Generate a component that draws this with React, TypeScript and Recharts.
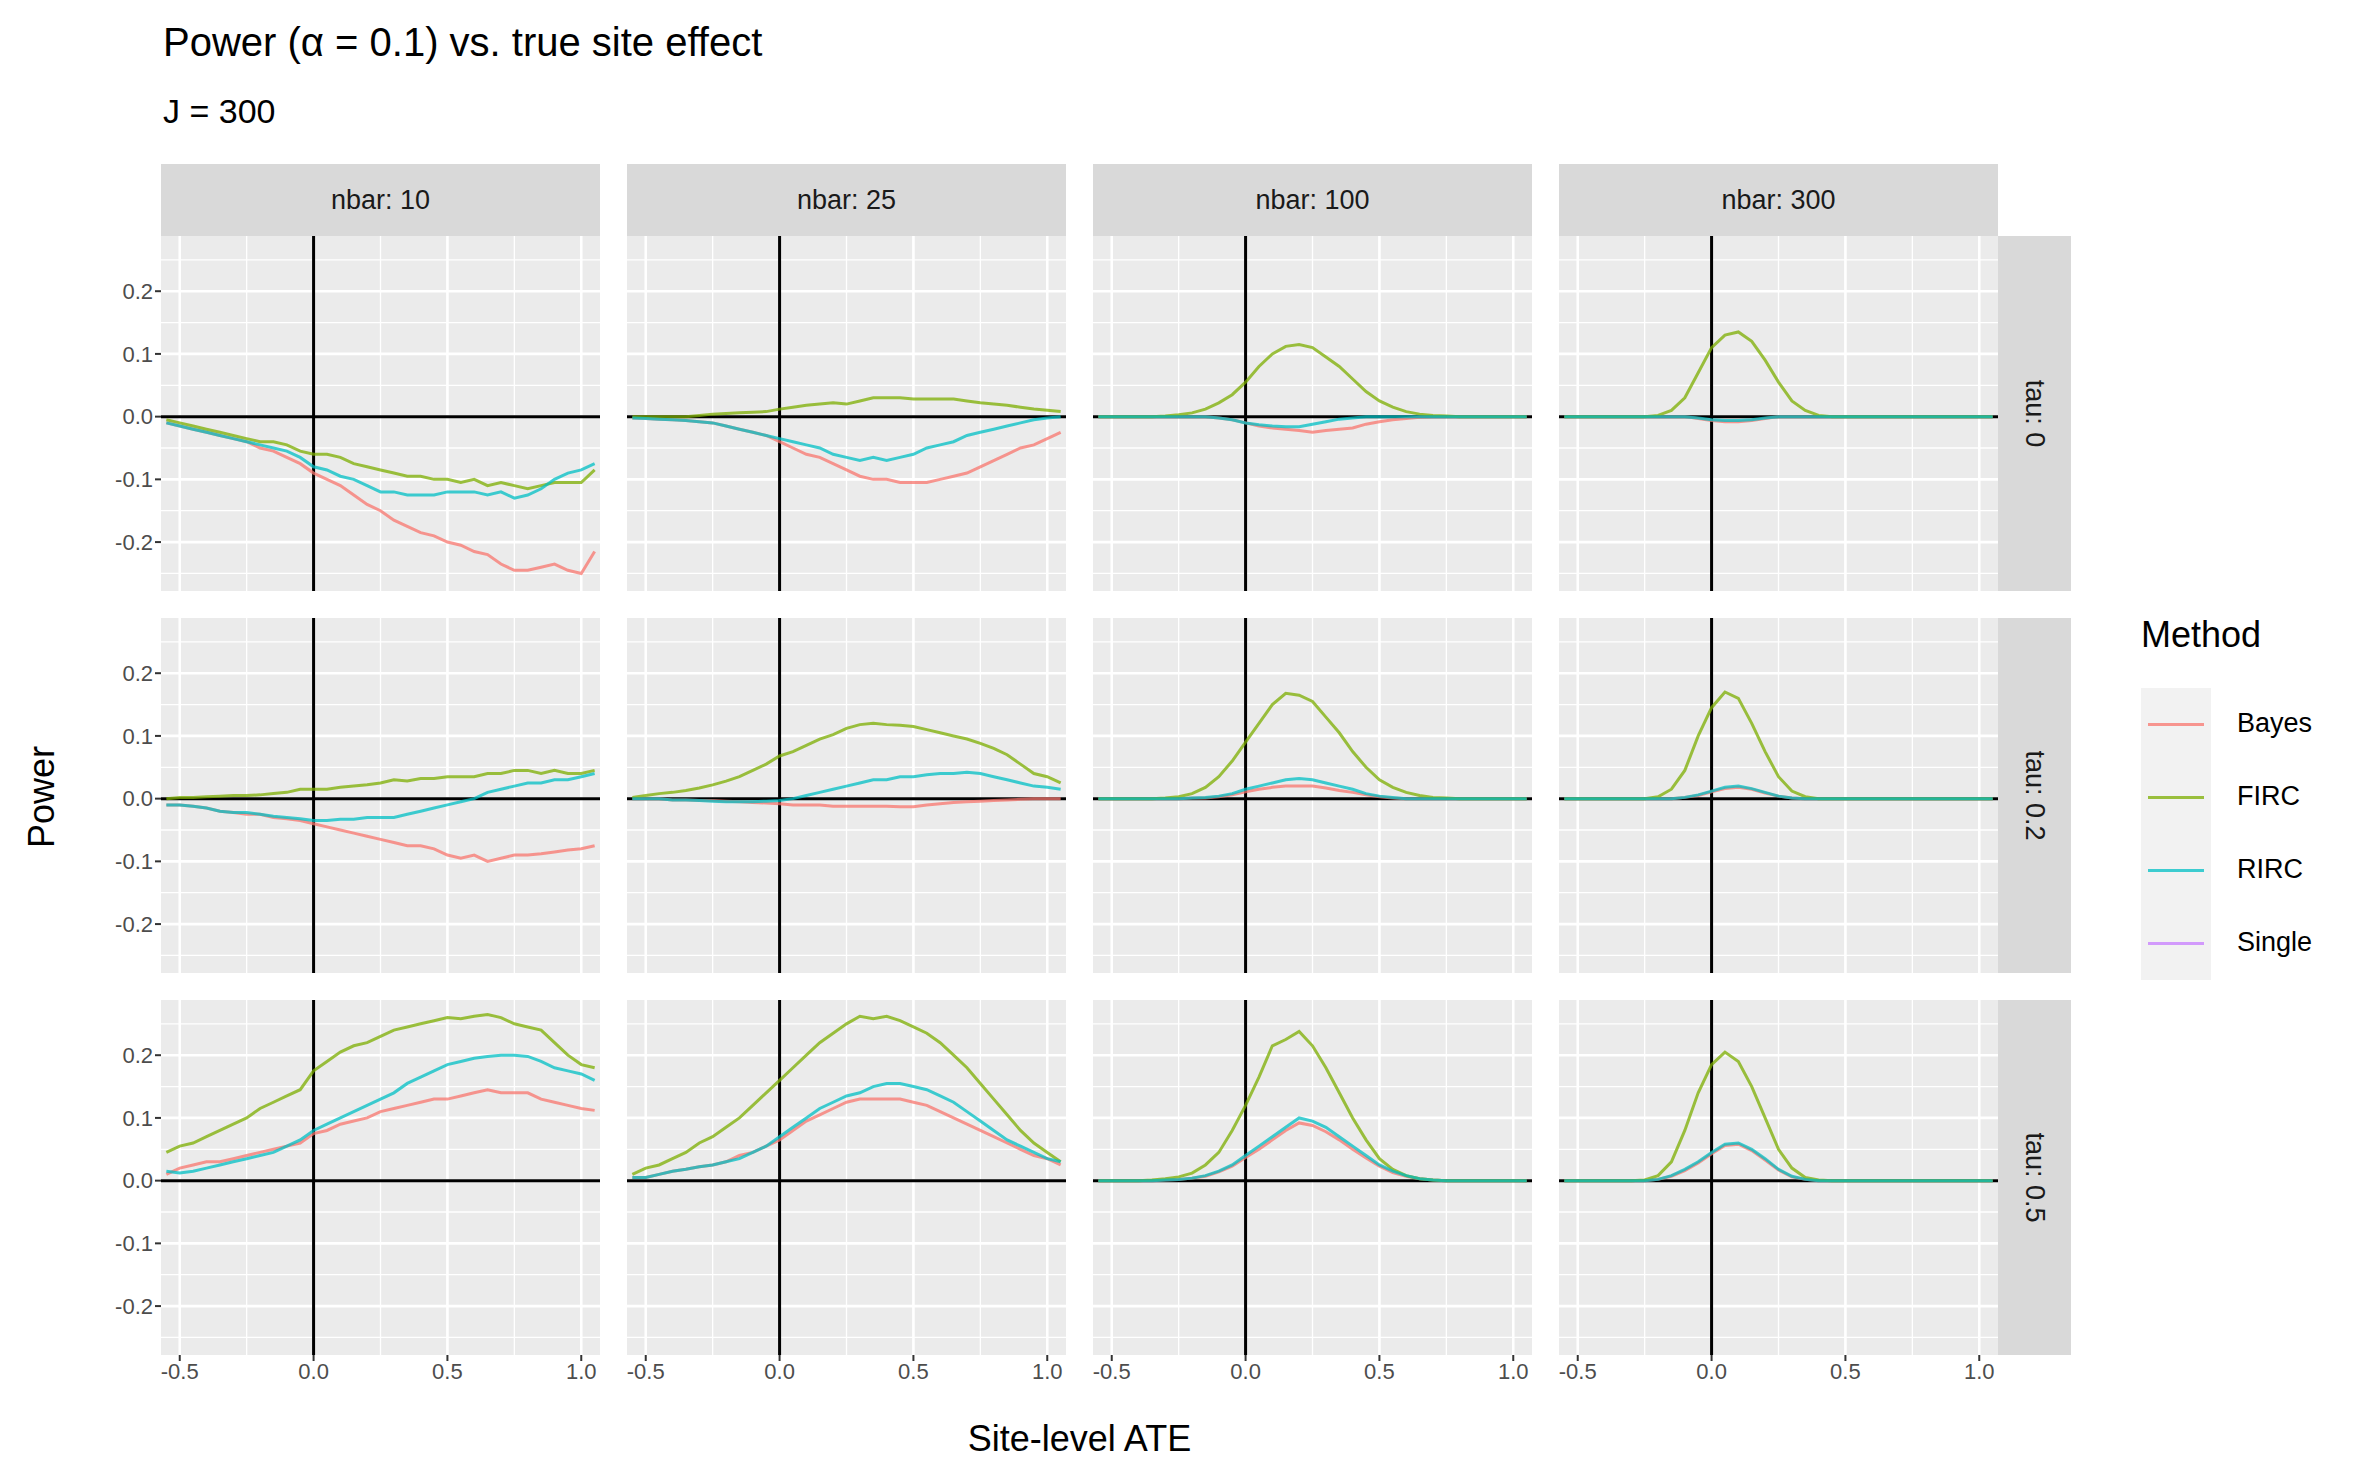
import React from 'react'
import { LineChart, Line, XAxis, YAxis, CartesianGrid, ReferenceLine } from 'recharts'

const xs = [-0.55, -0.5, -0.45, -0.4, -0.35, -0.3, -0.25, -0.2, -0.15, -0.1, -0.05, 0, 0.05, 0.1, 0.15, 0.2, 0.25, 0.3, 0.35, 0.4, 0.45, 0.5, 0.55, 0.6, 0.65, 0.7, 0.75, 0.8, 0.85, 0.9, 0.95, 1.0, 1.05]

const nbars = [10, 25, 100, 300]
const taus = ['0', '0.2', '0.5']
const methods = ['Bayes', 'FIRC', 'RIRC', 'Single']
const methodColors = ['#F8766D', '#7CAE00', '#00BFC4', '#C77CFF']

const xTicks = [-0.5, 0, 0.5, 1.0]
const xMinor = [-0.25, 0.25, 0.75]
const yTicks = [-0.2, -0.1, 0, 0.1, 0.2]
const yMinor = [-0.25, -0.15, -0.05, 0.05, 0.15, 0.25]

const z = (n: number) => new Array(n).fill(0)

// tau 0
const t0n10Bayes = [-0.01, -0.015, -0.02, -0.025, -0.03, -0.035, -0.04, -0.05, -0.055, -0.065, -0.075, -0.09, -0.1, -0.11, -0.125, -0.14, -0.15, -0.165, -0.175, -0.185, -0.19, -0.2, -0.205, -0.215, -0.22, -0.235, -0.245, -0.245, -0.24, -0.235, -0.245, -0.25, -0.215]
const t0n10Firc = [-0.005, -0.01, -0.015, -0.02, -0.025, -0.03, -0.035, -0.04, -0.04, -0.045, -0.055, -0.06, -0.06, -0.065, -0.075, -0.08, -0.085, -0.09, -0.095, -0.095, -0.1, -0.1, -0.105, -0.1, -0.11, -0.105, -0.11, -0.115, -0.11, -0.105, -0.105, -0.105, -0.085]
const t0n10Rirc = [-0.01, -0.015, -0.02, -0.025, -0.03, -0.035, -0.04, -0.045, -0.05, -0.055, -0.065, -0.08, -0.085, -0.095, -0.1, -0.11, -0.12, -0.12, -0.125, -0.125, -0.125, -0.12, -0.12, -0.12, -0.125, -0.12, -0.13, -0.125, -0.115, -0.1, -0.09, -0.085, -0.075]
const t0n25Bayes = [-0.002, -0.003, -0.004, -0.005, -0.006, -0.008, -0.01, -0.015, -0.02, -0.025, -0.03, -0.04, -0.05, -0.06, -0.065, -0.075, -0.085, -0.095, -0.1, -0.1, -0.105, -0.105, -0.105, -0.1, -0.095, -0.09, -0.08, -0.07, -0.06, -0.05, -0.045, -0.035, -0.025]
const t0n25Firc = [0, 0, 0, 0, 0, 0.002, 0.004, 0.005, 0.006, 0.007, 0.008, 0.012, 0.015, 0.018, 0.02, 0.022, 0.02, 0.025, 0.03, 0.03, 0.03, 0.028, 0.028, 0.028, 0.028, 0.025, 0.022, 0.02, 0.018, 0.015, 0.012, 0.01, 0.008]
const t0n25Rirc = [-0.002, -0.003, -0.004, -0.005, -0.006, -0.008, -0.01, -0.015, -0.02, -0.025, -0.03, -0.035, -0.04, -0.045, -0.05, -0.06, -0.065, -0.07, -0.065, -0.07, -0.065, -0.06, -0.05, -0.045, -0.04, -0.03, -0.025, -0.02, -0.015, -0.01, -0.005, -0.002, 0]
const t0n100Bayes = [...z(9), -0.002, -0.005, -0.01, -0.015, -0.018, -0.02, -0.022, -0.025, -0.022, -0.02, -0.018, -0.012, -0.008, -0.005, -0.003, -0.001, ...z(8)]
const t0n100Firc = [0, 0, 0, 0, 0, 0.001, 0.003, 0.006, 0.012, 0.022, 0.035, 0.055, 0.08, 0.1, 0.112, 0.115, 0.11, 0.095, 0.08, 0.06, 0.04, 0.025, 0.015, 0.008, 0.004, 0.002, 0.001, 0, 0, 0, 0, 0, 0]
const t0n100Rirc = [...z(9), -0.002, -0.005, -0.01, -0.013, -0.015, -0.016, -0.016, -0.012, -0.008, -0.004, -0.002, ...z(13)]
const t0n300Bayes = [...z(10), -0.003, -0.006, -0.008, -0.008, -0.006, -0.003, ...z(17)]
const t0n300Firc = [...z(7), 0.002, 0.01, 0.03, 0.07, 0.11, 0.13, 0.135, 0.12, 0.09, 0.055, 0.025, 0.01, 0.002, ...z(13)]
const t0n300Rirc = [...z(10), -0.002, -0.005, -0.006, -0.006, -0.005, -0.002, ...z(17)]

// tau 0.2
const t2n10Bayes = [-0.01, -0.01, -0.012, -0.015, -0.02, -0.022, -0.025, -0.025, -0.03, -0.032, -0.035, -0.04, -0.045, -0.05, -0.055, -0.06, -0.065, -0.07, -0.075, -0.075, -0.08, -0.09, -0.095, -0.09, -0.1, -0.095, -0.09, -0.09, -0.088, -0.085, -0.082, -0.08, -0.075]
const t2n10Firc = [0, 0.002, 0.002, 0.003, 0.004, 0.005, 0.005, 0.006, 0.008, 0.01, 0.015, 0.015, 0.015, 0.018, 0.02, 0.022, 0.025, 0.03, 0.028, 0.032, 0.032, 0.035, 0.035, 0.035, 0.04, 0.04, 0.045, 0.045, 0.04, 0.045, 0.04, 0.04, 0.045]
const t2n10Rirc = [-0.01, -0.01, -0.012, -0.015, -0.02, -0.022, -0.022, -0.025, -0.028, -0.03, -0.032, -0.035, -0.035, -0.033, -0.033, -0.03, -0.03, -0.03, -0.025, -0.02, -0.015, -0.01, -0.005, 0, 0.01, 0.015, 0.02, 0.025, 0.025, 0.03, 0.03, 0.035, 0.04]
const t2n25Bayes = [0, 0, 0, -0.002, -0.002, -0.003, -0.003, -0.004, -0.005, -0.006, -0.007, -0.008, -0.01, -0.01, -0.01, -0.012, -0.012, -0.012, -0.012, -0.012, -0.013, -0.013, -0.01, -0.008, -0.006, -0.005, -0.004, -0.003, -0.002, -0.001, 0, 0, 0]
const t2n25Firc = [0.002, 0.005, 0.008, 0.01, 0.013, 0.017, 0.022, 0.028, 0.035, 0.045, 0.055, 0.068, 0.075, 0.085, 0.095, 0.102, 0.112, 0.118, 0.12, 0.118, 0.117, 0.115, 0.11, 0.105, 0.1, 0.095, 0.088, 0.08, 0.07, 0.055, 0.04, 0.035, 0.025]
const t2n25Rirc = [0, 0, 0, -0.002, -0.002, -0.003, -0.004, -0.005, -0.005, -0.005, -0.004, -0.003, 0, 0.005, 0.01, 0.015, 0.02, 0.025, 0.03, 0.03, 0.035, 0.035, 0.038, 0.04, 0.04, 0.042, 0.04, 0.035, 0.03, 0.025, 0.02, 0.018, 0.015]
const t2n100Bayes = [...z(7), 0.001, 0.001, 0.003, 0.006, 0.011, 0.015, 0.018, 0.02, 0.02, 0.02, 0.017, 0.013, 0.01, 0.006, 0.003, 0.001, ...z(10)]
const t2n100Firc = [0, 0, 0, 0, 0, 0.001, 0.003, 0.008, 0.018, 0.035, 0.06, 0.09, 0.12, 0.15, 0.168, 0.165, 0.155, 0.13, 0.105, 0.075, 0.05, 0.03, 0.018, 0.01, 0.005, 0.002, 0.001, 0, 0, 0, 0, 0, 0]
const t2n100Rirc = [...z(7), 0.001, 0.002, 0.004, 0.008, 0.015, 0.02, 0.025, 0.03, 0.032, 0.03, 0.025, 0.02, 0.015, 0.008, 0.004, 0.002, ...z(10)]
const t2n300Bayes = [...z(9), 0.002, 0.005, 0.011, 0.016, 0.018, 0.015, 0.009, 0.004, 0.001, ...z(15)]
const t2n300Firc = [...z(7), 0.003, 0.015, 0.045, 0.1, 0.145, 0.17, 0.16, 0.12, 0.075, 0.035, 0.012, 0.003, ...z(14)]
const t2n300Rirc = [...z(9), 0.002, 0.006, 0.012, 0.018, 0.02, 0.016, 0.01, 0.004, 0.001, ...z(15)]

// tau 0.5
const t5n10Bayes = [0.01, 0.02, 0.025, 0.03, 0.03, 0.035, 0.04, 0.045, 0.05, 0.055, 0.06, 0.075, 0.08, 0.09, 0.095, 0.1, 0.11, 0.115, 0.12, 0.125, 0.13, 0.13, 0.135, 0.14, 0.145, 0.14, 0.14, 0.14, 0.13, 0.125, 0.12, 0.115, 0.112]
const t5n10Firc = [0.045, 0.055, 0.06, 0.07, 0.08, 0.09, 0.1, 0.115, 0.125, 0.135, 0.145, 0.175, 0.19, 0.205, 0.215, 0.22, 0.23, 0.24, 0.245, 0.25, 0.255, 0.26, 0.258, 0.262, 0.265, 0.26, 0.25, 0.245, 0.24, 0.22, 0.2, 0.185, 0.18]
const t5n10Rirc = [0.015, 0.012, 0.015, 0.02, 0.025, 0.03, 0.035, 0.04, 0.045, 0.055, 0.065, 0.08, 0.09, 0.1, 0.11, 0.12, 0.13, 0.14, 0.155, 0.165, 0.175, 0.185, 0.19, 0.195, 0.198, 0.2, 0.2, 0.198, 0.19, 0.18, 0.175, 0.17, 0.16]
const t5n25Bayes = [0.005, 0.005, 0.01, 0.015, 0.018, 0.022, 0.025, 0.03, 0.04, 0.045, 0.055, 0.065, 0.08, 0.095, 0.105, 0.115, 0.125, 0.13, 0.13, 0.13, 0.13, 0.125, 0.12, 0.11, 0.1, 0.09, 0.08, 0.07, 0.06, 0.05, 0.04, 0.035, 0.025]
const t5n25Firc = [0.01, 0.02, 0.025, 0.035, 0.045, 0.06, 0.07, 0.085, 0.1, 0.12, 0.14, 0.16, 0.18, 0.2, 0.22, 0.235, 0.25, 0.262, 0.258, 0.262, 0.255, 0.245, 0.235, 0.22, 0.2, 0.18, 0.155, 0.13, 0.105, 0.08, 0.06, 0.045, 0.03]
const t5n25Rirc = [0.005, 0.005, 0.01, 0.015, 0.018, 0.022, 0.025, 0.03, 0.035, 0.045, 0.055, 0.07, 0.085, 0.1, 0.115, 0.125, 0.135, 0.14, 0.15, 0.155, 0.155, 0.15, 0.145, 0.135, 0.125, 0.11, 0.095, 0.08, 0.065, 0.055, 0.045, 0.035, 0.03]
const t5n100Bayes = [0, 0, 0, 0, 0, 0.001, 0.002, 0.004, 0.007, 0.014, 0.023, 0.037, 0.05, 0.065, 0.08, 0.092, 0.088, 0.078, 0.065, 0.05, 0.036, 0.023, 0.013, 0.007, 0.003, 0.001, ...z(7)]
const t5n100Firc = [0, 0, 0, 0, 0.001, 0.003, 0.006, 0.012, 0.025, 0.045, 0.08, 0.12, 0.165, 0.215, 0.225, 0.238, 0.215, 0.18, 0.14, 0.1, 0.065, 0.035, 0.018, 0.008, 0.003, 0.001, ...z(7)]
const t5n100Rirc = [0, 0, 0, 0, 0, 0.001, 0.002, 0.004, 0.008, 0.015, 0.025, 0.04, 0.055, 0.07, 0.085, 0.1, 0.095, 0.085, 0.07, 0.055, 0.04, 0.025, 0.015, 0.008, 0.003, 0.001, ...z(7)]
const t5n300Bayes = [...z(7), 0.002, 0.007, 0.016, 0.028, 0.043, 0.056, 0.058, 0.048, 0.033, 0.017, 0.006, 0.002, ...z(14)]
const t5n300Firc = [...z(6), 0.001, 0.008, 0.03, 0.08, 0.14, 0.185, 0.205, 0.19, 0.15, 0.1, 0.05, 0.02, 0.005, 0.001, ...z(13)]
const t5n300Rirc = [...z(7), 0.002, 0.008, 0.018, 0.03, 0.045, 0.058, 0.06, 0.05, 0.035, 0.018, 0.007, 0.002, ...z(14)]

const series: number[][][][] = [
  [[t0n10Bayes, t0n10Firc, t0n10Rirc], [t0n25Bayes, t0n25Firc, t0n25Rirc], [t0n100Bayes, t0n100Firc, t0n100Rirc], [t0n300Bayes, t0n300Firc, t0n300Rirc]],
  [[t2n10Bayes, t2n10Firc, t2n10Rirc], [t2n25Bayes, t2n25Firc, t2n25Rirc], [t2n100Bayes, t2n100Firc, t2n100Rirc], [t2n300Bayes, t2n300Firc, t2n300Rirc]],
  [[t5n10Bayes, t5n10Firc, t5n10Rirc], [t5n25Bayes, t5n25Firc, t5n25Rirc], [t5n100Bayes, t5n100Firc, t5n100Rirc], [t5n300Bayes, t5n300Firc, t5n300Rirc]],
]

const FONT = 'Arial, "Liberation Sans", sans-serif'
const PW = 439
const PH = 355
const colLeft = [161, 627, 1093, 1559]
const rowTop = [236, 618, 1000]
const YW = 70
const XH = 50

function Panel({ r, c }: { r: number; c: number }) {
  const data = xs.map((x, i) => ({
    x,
    Bayes: series[r][c][0][i],
    FIRC: series[r][c][1][i],
    RIRC: series[r][c][2][i],
  }))
  const showY = c === 0
  const showX = r === 2
  const w = PW + (showY ? YW : 0)
  const h = PH + (showX ? XH : 0)
  const tick = { fontSize: 22, fill: '#4D4D4D', fontFamily: FONT }
  return (
    <div style={{ position: 'absolute', left: colLeft[c] - (showY ? YW : 0), top: rowTop[r] }}>
      <LineChart width={w} height={h} data={data} margin={{ top: 0, right: 0, bottom: 0, left: 0 }}>
        <CartesianGrid fill="#EBEBEB" horizontal={false} vertical={false} />
        <XAxis
          dataKey="x"
          type="number"
          domain={[-0.57, 1.07]}
          ticks={xTicks}
          allowDataOverflow
          hide={!showX}
          height={XH}
          axisLine={false}
          tick={tick}
          tickLine={{ stroke: '#333333', strokeWidth: 2 }}
          tickSize={6}
          tickFormatter={(v: number) => v.toFixed(1)}
        />
        <YAxis
          type="number"
          domain={[-0.278, 0.288]}
          ticks={yTicks}
          allowDataOverflow
          hide={!showY}
          width={YW}
          axisLine={false}
          tick={tick}
          tickLine={{ stroke: '#333333', strokeWidth: 2 }}
          tickSize={6}
          tickFormatter={(v: number) => v.toFixed(1)}
        />
        {yMinor.map((v) => (
          <ReferenceLine key={'ym' + v} y={v} stroke="#FFFFFF" strokeWidth={1.3} />
        ))}
        {xMinor.map((v) => (
          <ReferenceLine key={'xm' + v} x={v} stroke="#FFFFFF" strokeWidth={1.3} />
        ))}
        {yTicks.map((v) => (
          <ReferenceLine key={'y' + v} y={v} stroke="#FFFFFF" strokeWidth={2.6} />
        ))}
        {xTicks.map((v) => (
          <ReferenceLine key={'x' + v} x={v} stroke="#FFFFFF" strokeWidth={2.6} />
        ))}
        <ReferenceLine y={0} stroke="#000000" strokeWidth={3} />
        <ReferenceLine x={0} stroke="#000000" strokeWidth={3} />
        {methods.slice(0, 3).map((m, i) => (
          <Line
            key={m}
            type="linear"
            dataKey={m}
            stroke={methodColors[i]}
            strokeOpacity={0.75}
            strokeWidth={3}
            dot={false}
            isAnimationActive={false}
          />
        ))}
      </LineChart>
    </div>
  )
}

export default function App() {
  const text = { position: 'absolute' as const, fontFamily: FONT, whiteSpace: 'nowrap' as const }
  return (
    <div style={{ position: 'absolute', left: 0, top: 0, width: 2362, height: 1476, background: '#FFFFFF', overflow: 'hidden' }}>
      <div style={{ ...text, left: 163, top: 20, fontSize: 40, color: '#000' }}>Power (α = 0.1) vs. true site effect</div>
      <div style={{ ...text, left: 163, top: 92, fontSize: 34, color: '#000' }}>J = 300</div>
      {nbars.map((n, c) => (
        <div key={n} style={{ ...text, left: colLeft[c], top: 164, width: PW, height: 72, background: '#D9D9D9', color: '#1A1A1A', fontSize: 27, display: 'flex', alignItems: 'center', justifyContent: 'center' }}>
          nbar: {n}
        </div>
      ))}
      {taus.map((t, r) => (
        <div key={t} style={{ ...text, left: colLeft[3] + PW, top: rowTop[r], width: 73, height: PH, background: '#D9D9D9', color: '#1A1A1A', fontSize: 27, display: 'flex', alignItems: 'center', justifyContent: 'center' }}>
          <span style={{ transform: 'rotate(90deg)' }}>tau: {t}</span>
        </div>
      ))}
      {taus.map((t, r) => nbars.map((n, c) => <Panel key={t + '-' + n} r={r} c={c} />))}
      <div style={{ ...text, left: 0, width: colLeft[3] + PW - colLeft[0], marginLeft: colLeft[0], top: 1418, fontSize: 36, color: '#000', textAlign: 'center' }}>Site-level ATE</div>
      <div style={{ ...text, left: 42, top: 797, fontSize: 36, color: '#000', transform: 'translate(-50%, -50%) rotate(-90deg)' }}>Power</div>
      <div style={{ ...text, left: 2141, top: 614, fontSize: 36, color: '#000' }}>Method</div>
      {methods.map((m, i) => (
        <div key={m}>
          <div style={{ position: 'absolute', left: 2141, top: 688 + i * 73, width: 70, height: 73, background: '#F2F2F2' }}>
            <div style={{ position: 'absolute', left: 7, right: 7, top: 35, height: 3, background: methodColors[i], opacity: 0.75 }} />
          </div>
          <div style={{ ...text, left: 2237, top: 708 + i * 73, fontSize: 27, color: '#000' }}>{m}</div>
        </div>
      ))}
    </div>
  )
}
